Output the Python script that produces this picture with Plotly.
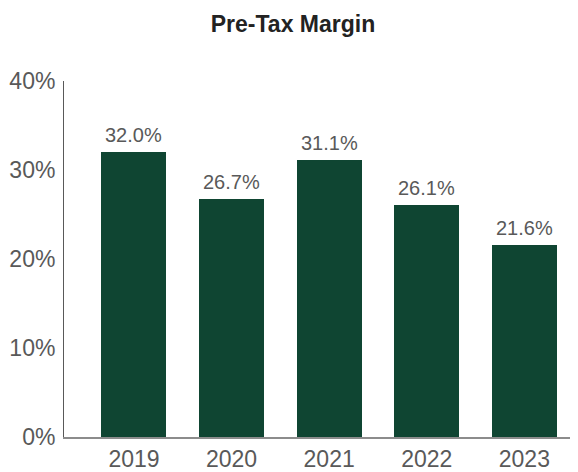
import plotly.graph_objects as go

years = ["2019", "2020", "2021", "2022", "2023"]
margins = [32.0, 26.7, 31.1, 26.1, 21.6]
labels = ["32.0%", "26.7%", "31.1%", "26.1%", "21.6%"]
y_ticks = [0, 10, 20, 30, 40]
y_tick_text = ["0%", "10%", "20%", "30%", "40%"]

fig = go.Figure()
fig.add_trace(go.Bar(
    x=list(range(len(years))), y=margins,
    marker=dict(color="#0f4532", line=dict(width=0)),
    width=0.666,
))
for i, (v, t) in enumerate(zip(margins, labels)):
    fig.add_annotation(x=i, y=v, text=t, showarrow=False, yanchor="bottom",
                       yshift=4, font=dict(size=20, color="#595959"))

# page body has an 8px default margin, so the figure is sized to fit the window
fig.update_layout(
    width=570, height=464,
    margin=dict(l=56, r=0, t=73, b=29),
    paper_bgcolor="white", plot_bgcolor="white",
    font=dict(family="Liberation Sans, Arial, sans-serif", color="#595959"),
    title=dict(text="<b>Pre-Tax Margin</b>", x=0.5, xanchor="center", y=0.966, yanchor="middle",
               font=dict(size=23, color="#222222")),
    showlegend=False,
    bargap=0,
)
fig.update_xaxes(
    range=[-0.717, 4.55], tickmode="array", tickvals=list(range(len(years))), ticktext=years,
    showline=True, linecolor="#8c8c8c", linewidth=2, showgrid=False, zeroline=False,
    ticks="", tickfont=dict(size=23, color="#595959"),
)
fig.update_yaxes(
    range=[0, 40], tickmode="array", tickvals=y_ticks, ticktext=y_tick_text,
    showline=True, linecolor="#595959", linewidth=1, showgrid=False, zeroline=False,
    ticks="", ticklabelstandoff=3, tickfont=dict(size=23, color="#595959"),
)
fig.write_html("out.html")
